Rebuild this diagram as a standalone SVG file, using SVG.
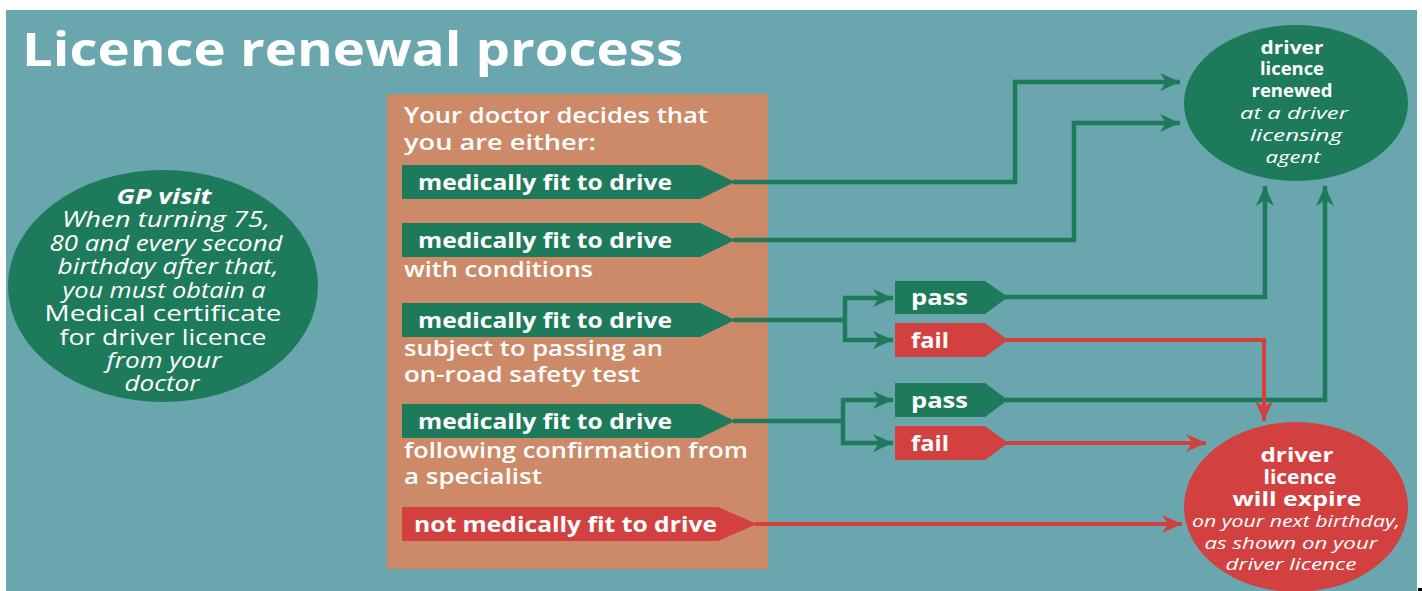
<svg xmlns="http://www.w3.org/2000/svg" width="1422" height="591" viewBox="0 0 1422 591">
  <style>
    .t { font-family: "Open Sans", "Liberation Sans", sans-serif; fill: #ffffff; }
    .b { font-weight: 700; }
    .s { font-weight: 600; }
    .i { font-style: italic; }
    .g { fill: #1d7a5b; }
    .r { fill: #d2413f; }
    .lg { fill: none; stroke: #1d7a5b; stroke-width: 4.5; stroke-linejoin: miter; }
    .lr { fill: none; stroke: #d2413f; stroke-width: 4; stroke-linejoin: miter; }
  </style>
  <defs>
    <marker id="ag" markerUnits="userSpaceOnUse" markerWidth="22" markerHeight="18" refX="20" refY="9" orient="auto">
      <path d="M0,0 L20,9 L0,18 L6,9 Z" fill="#1d7a5b"/>
    </marker>
    <marker id="ar" markerUnits="userSpaceOnUse" markerWidth="22" markerHeight="18" refX="20" refY="9" orient="auto">
      <path d="M0,0 L20,9 L0,18 L6,9 Z" fill="#d2413f"/>
    </marker>
  </defs>

  <!-- page -->
  <rect x="0" y="0" width="1422" height="591" fill="#ffffff"/>
  <rect x="6" y="10" width="1411" height="581" fill="#6aa6ad"/>
  <rect x="1418" y="588" width="4" height="3" fill="#000000"/>

  <text class="t b" x="22" y="66" font-size="46" textLength="661" lengthAdjust="spacingAndGlyphs">Licence renewal process</text>

  <!-- GP visit -->
  <g id="gp-visit">
    <ellipse class="g" cx="163" cy="286" rx="155" ry="116"/>
    <g class="t" font-size="21.5" text-anchor="middle" lengthAdjust="spacingAndGlyphs">
      <text class="b i" x="164" y="204" textLength="95" lengthAdjust="spacingAndGlyphs">GP visit</text>
      <text class="i" x="166" y="227" textLength="208" lengthAdjust="spacingAndGlyphs">When turning 75,</text>
      <text class="i" x="166" y="251" textLength="233" lengthAdjust="spacingAndGlyphs">80 and every second</text>
      <text class="i" x="168" y="274" textLength="221" lengthAdjust="spacingAndGlyphs">birthday after that,</text>
      <text class="i" x="164" y="298" textLength="203" lengthAdjust="spacingAndGlyphs">you must obtain a</text>
      <text x="163" y="321" textLength="237" lengthAdjust="spacingAndGlyphs">Medical certificate</text>
      <text x="163" y="345" textLength="207" lengthAdjust="spacingAndGlyphs">for driver licence</text>
      <text class="i" x="164" y="368" textLength="115" lengthAdjust="spacingAndGlyphs">from your</text>
      <text class="i" x="162" y="391" textLength="75" lengthAdjust="spacingAndGlyphs">doctor</text>
    </g>
  </g>

  <!-- doctor decision panel -->
  <g id="decision">
    <rect x="387" y="94" width="381" height="475" fill="#cd8a69"/>
    <text class="t s" x="404" y="123" font-size="21" textLength="304" lengthAdjust="spacingAndGlyphs">Your doctor decides that</text>
    <text class="t s" x="404" y="150" font-size="21" textLength="192" lengthAdjust="spacingAndGlyphs">you are either:</text>
  </g>

  <g id="fit">
    <polygon class="g" points="402,165 700,165 735,182 700,199 402,199"/>
    <text class="t b" x="418" y="190" font-size="21" textLength="254" lengthAdjust="spacingAndGlyphs">medically fit to drive</text>
  </g>

  <g id="fit-conditions">
    <polygon class="g" points="402,223 700,223 735,240 700,257 402,257"/>
    <text class="t b" x="418" y="248" font-size="21" textLength="254" lengthAdjust="spacingAndGlyphs">medically fit to drive</text>
    <text class="t s" x="404" y="277" font-size="21" textLength="189" lengthAdjust="spacingAndGlyphs">with conditions</text>
  </g>

  <g id="fit-test">
    <polygon class="g" points="402,303 700,303 735,320 700,337 402,337"/>
    <text class="t b" x="418" y="328" font-size="21" textLength="254" lengthAdjust="spacingAndGlyphs">medically fit to drive</text>
    <text class="t s" x="404" y="356" font-size="21" textLength="259" lengthAdjust="spacingAndGlyphs">subject to passing an</text>
    <text class="t s" x="404" y="382" font-size="21" textLength="236" lengthAdjust="spacingAndGlyphs">on-road safety test</text>
  </g>

  <g id="fit-specialist">
    <polygon class="g" points="402,404 700,404 735,421 700,438 402,438"/>
    <text class="t b" x="418" y="429" font-size="21" textLength="254" lengthAdjust="spacingAndGlyphs">medically fit to drive</text>
    <text class="t s" x="404" y="458" font-size="21" textLength="344" lengthAdjust="spacingAndGlyphs">following confirmation from</text>
    <text class="t s" x="404" y="484" font-size="21" textLength="138" lengthAdjust="spacingAndGlyphs">a specialist</text>
  </g>

  <g id="not-fit">
    <polygon class="r" points="402,507 718,507 757,524 718,541 402,541"/>
    <text class="t b" x="414" y="532" font-size="21" textLength="303" lengthAdjust="spacingAndGlyphs">not medically fit to drive</text>
  </g>

  <!-- connectors -->
  <g id="connectors">
    <path class="lg" d="M733,182 H1015 V82 H1180" marker-end="url(#ag)"/>
    <path class="lg" d="M733,240 H1074 V123 H1180" marker-end="url(#ag)"/>
    <path class="lg" d="M733,320 H845"/>
    <path class="lg" d="M845,296 V342"/>
    <path class="lg" d="M843,298 H893" marker-end="url(#ag)"/>
    <path class="lg" d="M843,340 H893" marker-end="url(#ag)"/>
    <path class="lg" d="M733,421 H843"/>
    <path class="lg" d="M843,398 V445"/>
    <path class="lg" d="M841,400 H893" marker-end="url(#ag)"/>
    <path class="lg" d="M841,443 H893" marker-end="url(#ag)"/>
    <path class="lg" d="M1005,297 H1265 V186" marker-end="url(#ag)"/>
    <path class="lg" d="M1005,400 H1325 V186" marker-end="url(#ag)"/>
    <path class="lr" d="M1005,340 H1264 V421" marker-end="url(#ar)"/>
    <path class="lr" d="M1005,443 H1206" marker-end="url(#ar)"/>
    <path class="lr" d="M755,524 H1182" marker-end="url(#ar)"/>
  </g>

  <!-- test outcomes -->
  <g id="pass-1">
    <polygon class="g" points="895,281 985,281 1008,297 985,314 895,314"/>
    <text class="t b" x="911" y="305" font-size="21" textLength="57" lengthAdjust="spacingAndGlyphs">pass</text>
  </g>
  <g id="fail-1">
    <polygon class="r" points="895,323 985,323 1008,340 985,357 895,357"/>
    <text class="t b" x="911" y="348" font-size="21" textLength="38" lengthAdjust="spacingAndGlyphs">fail</text>
  </g>
  <g id="pass-2">
    <polygon class="g" points="895,383 985,383 1008,400 985,417 895,417"/>
    <text class="t b" x="911" y="408" font-size="21" textLength="57" lengthAdjust="spacingAndGlyphs">pass</text>
  </g>
  <g id="fail-2">
    <polygon class="r" points="895,426 985,426 1008,443 985,460 895,460"/>
    <text class="t b" x="911" y="451" font-size="21" textLength="38" lengthAdjust="spacingAndGlyphs">fail</text>
  </g>

  <!-- results -->
  <g id="renewed">
    <ellipse class="g" cx="1296" cy="103" rx="112" ry="78"/>
    <g class="t" text-anchor="middle">
      <text class="b" x="1292" y="54" font-size="18.5" textLength="63" lengthAdjust="spacingAndGlyphs">driver</text>
      <text class="b" x="1292" y="75" font-size="18.5" textLength="64" lengthAdjust="spacingAndGlyphs">licence</text>
      <text class="b" x="1292" y="97" font-size="18.5" textLength="81" lengthAdjust="spacingAndGlyphs">renewed</text>
      <text class="i" x="1294" y="119" font-size="17" textLength="108" lengthAdjust="spacingAndGlyphs">at a driver</text>
      <text class="i" x="1296" y="141" font-size="17" textLength="92" lengthAdjust="spacingAndGlyphs">licensing</text>
      <text class="i" x="1293" y="163" font-size="17" textLength="55" lengthAdjust="spacingAndGlyphs">agent</text>
    </g>
  </g>

  <g id="expire">
    <ellipse class="r" cx="1296" cy="507" rx="112" ry="85"/>
    <g class="t" text-anchor="middle">
      <text class="b" x="1297" y="462" font-size="20" textLength="73" lengthAdjust="spacingAndGlyphs">driver</text>
      <text class="b" x="1300" y="484" font-size="20" textLength="73" lengthAdjust="spacingAndGlyphs">licence</text>
      <text class="b" x="1297" y="506" font-size="20" textLength="129" lengthAdjust="spacingAndGlyphs">will expire</text>
      <text class="i" x="1296" y="527" font-size="16" textLength="208" lengthAdjust="spacingAndGlyphs">on your next birthday,</text>
      <text class="i" x="1291" y="549" font-size="16" textLength="173" lengthAdjust="spacingAndGlyphs">as shown on your</text>
      <text class="i" x="1291" y="570" font-size="16" textLength="131" lengthAdjust="spacingAndGlyphs">driver licence</text>
    </g>
  </g>
</svg>
